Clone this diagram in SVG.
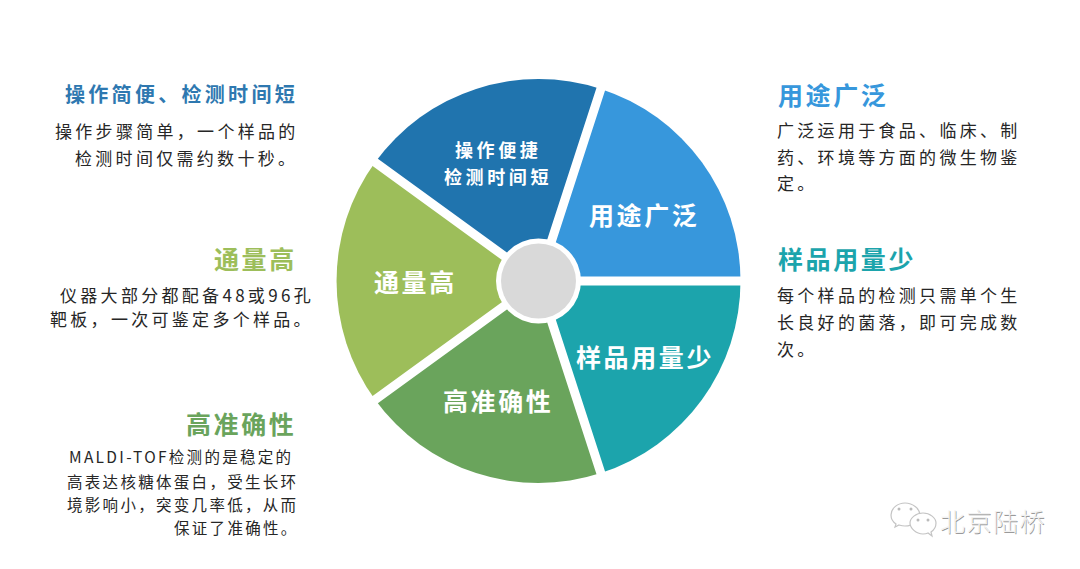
<svg xmlns="http://www.w3.org/2000/svg" width="1080" height="569" viewBox="0 0 1080 569">
<style>
text{font-family:"Noto Sans CJK SC","Noto Sans",sans-serif}
.t{font-size:25px;font-weight:700;letter-spacing:2.6px}
.t2{font-size:20px;font-weight:700;letter-spacing:3.3px}
.b{font-size:17px;fill:#262626;letter-spacing:3.3px}
.b2{font-size:15.5px;fill:#262626;letter-spacing:2.3px}
.p{font-size:25px;font-weight:700;fill:#fff;letter-spacing:2.6px}
.p2{font-size:18px;font-weight:700;fill:#fff;letter-spacing:3.6px}
.div{stroke:#fff;stroke-width:9;fill:none}
.wm{font-size:25px;font-weight:300;letter-spacing:1.5px}
.ic{fill:#fff;stroke:#c4c4c4;stroke-width:1.2}
</style>
<rect width="1080" height="569" fill="#fff"/>
<g id="pie-blue"><path d="M538.5 281L740.5 281A202 202 0 0 0 600.9 88.9Z" fill="#3797dc"/><text class="p" x="589" y="225">用途广泛</text></g>
<g id="pie-teal"><path d="M538.5 281L600.9 473.1A202 202 0 0 0 740.5 281Z" fill="#1ca4ac"/><text class="p" x="576" y="367">样品用量少</text></g>
<g id="pie-green"><path d="M538.5 281L375.1 399.7A202 202 0 0 0 600.9 473.1Z" fill="#6aa45c"/><text class="p" x="443" y="411">高准确性</text></g>
<g id="pie-lime"><path d="M538.5 281L375.1 162.3A202 202 0 0 0 375.1 399.7Z" fill="#9dbe5a"/><text class="p" x="374" y="292">通量高</text></g>
<g id="pie-navy"><path d="M538.5 281L600.9 88.9A202 202 0 0 0 375.1 162.3Z" fill="#2074ae"/><text class="p2" x="455" y="157">操作便捷</text><text class="p2" x="444" y="184">检测时间短</text></g>
<g id="connectors"><path class="div" d="M538.5 281L745 281M538.5 281L602.4 84.2M538.5 281L371.1 159.4M538.5 281L371.1 402.6M538.5 281L602.4 477.8"/></g>
<g id="hub"><circle cx="538.5" cy="281" r="42.5" fill="#fff"/><circle cx="538.5" cy="281" r="37.5" fill="#d9d9d9"/></g>
<g id="note-ops"><text class="t2" x="65" y="102" fill="#2e78b0">操作简便、检测时间短</text><text class="b" x="55" y="138">操作步骤简单，一个样品的</text><text class="b" x="75" y="165">检测时间仅需约数十秒。</text></g>
<g id="note-throughput"><text class="t" x="214" y="269" fill="#9dbe5a">通量高</text><text class="b" x="60" y="302">仪器大部分都配备48或96孔</text><text class="b" x="50" y="326">靶板，一次可鉴定多个样品。</text></g>
<g id="note-accuracy"><text class="t" x="186" y="434" fill="#6aa45c">高准确性</text><text class="b2" x="69" y="463">MALDI-TOF检测的是稳定的</text><text class="b2" x="67" y="488">高表达核糖体蛋白，受生长环</text><text class="b2" x="67" y="511">境影响小，突变几率低，从而</text><text class="b2" x="174" y="534">保证了准确性。</text></g>
<g id="note-use"><text class="t" x="778" y="105" fill="#3797dc">用途广泛</text><text class="b" x="777" y="137">广泛运用于食品、临床、制</text><text class="b" x="777" y="164">药、环境等方面的微生物鉴</text><text class="b" x="777" y="190">定。</text></g>
<g id="note-sample"><text class="t" x="778" y="269" fill="#1ca4ac">样品用量少</text><text class="b" x="777" y="302">每个样品的检测只需单个生</text><text class="b" x="777" y="329">长良好的菌落，即可完成数</text><text class="b" x="777" y="356">次。</text></g>
<g id="watermark"><path class="ic" d="M905 503c-7 0-14 5-14 12 0 4 2 7 5 9l-1 3 4-2c2 .6 4 1 6 1 8 0 15-5 15-11s-7-12-15-12Z"/><path class="ic" d="M923 513c-7 0-13 5-13 10s6 11 13 11c2 0 3 0 5-1l4 3-1-4c3-2 5-5 5-9 0-5-6-10-13-10Z"/><circle cx="899" cy="509" r="1.5" fill="#bbb"/><circle cx="911" cy="509" r="1.5" fill="#bbb"/><circle cx="918" cy="520" r="1.5" fill="#bbb"/><circle cx="928" cy="520" r="1.5" fill="#bbb"/><text class="wm" x="940.7" y="531.7" fill="#9a9a9a">北京陆桥</text><text class="wm" x="940" y="531" fill="#f2f2f2">北京陆桥</text></g>
</svg>
